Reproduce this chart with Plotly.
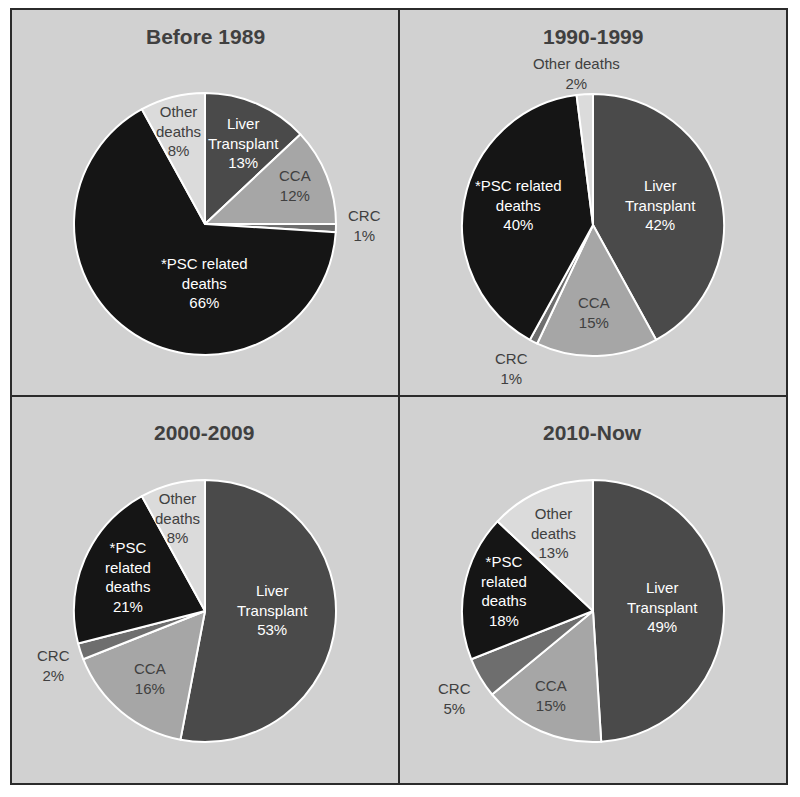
import plotly.graph_objects as go

# ── Data ─────────────────────────────────────────────────────────────────────

PERIODS = ["Before 1989", "1990-1999", "2000-2009", "2010-Now"]
CATEGORIES = ["Liver Transplant", "CCA", "CRC", "*PSC related deaths", "Other deaths"]

BEFORE_1989 = [13, 12, 1, 66, 8]
Y1990_1999 = [42, 15, 1, 40, 2]
Y2000_2009 = [53, 16, 2, 21, 8]
Y2010_NOW = [49, 15, 5, 18, 13]

# how each label wraps in the original, per panel
LABEL_LINES = [
    ["Liver<br>Transplant", "CCA", "CRC", "*PSC related<br>deaths", "Other<br>deaths"],
    ["Liver<br>Transplant", "CCA", "CRC", "*PSC related<br>deaths", "Other deaths"],
    ["Liver<br>Transplant", "CCA", "CRC", "*PSC<br>related<br>deaths", "Other<br>deaths"],
    ["Liver<br>Transplant", "CCA", "CRC", "*PSC<br>related<br>deaths", "Other<br>deaths"],
]

# ── Styling / layout ─────────────────────────────────────────────────────────

# the page body has an 8px margin, so the figure is a bit smaller than the window
PAGE_PAD = 8
W, H = 784, 780
BG = "#d1d1d1"
SLICE_COLORS = ["#4a4a4a", "#a6a6a6", "#6e6e6e", "#151515", "#dbdbdb"]
TEXT_DARK = "#404040"
LABEL_COLORS = ["white", TEXT_DARK, TEXT_DARK, "white", TEXT_DARK]
FONT = "Arial, Liberation Sans, sans-serif"

# pie centre (px), radius (px), title centre (px) -- window coordinates
PANELS = [
    dict(cx=205, cy=224, r=131, tx=205, ty=37),
    dict(cx=593, cy=225, r=131, tx=593, ty=37),
    dict(cx=205, cy=611, r=131, tx=204, ty=433),
    dict(cx=593, cy=611, r=131, tx=592, ty=433),
]
# label offsets from pie centre (px), same order as CATEGORIES
LABEL_OFFSETS = [
    [(38, -81), (90, -38), (159, 1), (-1, 59), (-27, -93)],
    [(67, -20), (1, 88), (-82, 143), (-75, -20), (-17, -152)],
    [(67, -1), (-55, 67), (-152, 54), (-77, -34), (-28, -93)],
    [(69, -4), (-42, 84), (-139, 87), (-89, -20), (-40, -78)],
]


def px_x(x):
    return (x - PAGE_PAD) / W


def px_y(y):
    return 1 - (y - PAGE_PAD) / H


fig = go.Figure()
annotations = []

for i, values in enumerate([BEFORE_1989, Y1990_1999, Y2000_2009, Y2010_NOW]):
    p = PANELS[i]
    fig.add_trace(go.Pie(
        labels=CATEGORIES,
        values=values,
        sort=False,
        direction="clockwise",
        rotation=0,
        marker=dict(colors=SLICE_COLORS, line=dict(color="white", width=2)),
        textinfo="none",
        hoverinfo="label+percent",
        showlegend=False,
        domain=dict(
            x=[px_x(p["cx"] - p["r"]), px_x(p["cx"] + p["r"])],
            y=[px_y(p["cy"] + p["r"]), px_y(p["cy"] - p["r"])],
        ),
    ))

    total = sum(values)
    for j, v in enumerate(values):
        dx, dy = LABEL_OFFSETS[i][j]
        annotations.append(dict(
            text=f"{LABEL_LINES[i][j]}<br>{round(v / total * 100)}%",
            x=px_x(p["cx"] + dx), y=px_y(p["cy"] + dy),
            xref="paper", yref="paper",
            xanchor="center", yanchor="middle",
            showarrow=False,
            font=dict(family=FONT, size=15, color=LABEL_COLORS[j]),
        ))

    annotations.append(dict(
        text=f"<b>{PERIODS[i]}</b>",
        x=px_x(p["tx"]), y=px_y(p["ty"]),
        xref="paper", yref="paper",
        xanchor="center", yanchor="middle",
        showarrow=False,
        font=dict(family=FONT, size=21, color=TEXT_DARK),
    ))

# panel frame and dividers
line = dict(color="#2b2b2b", width=2)
shapes = [
    dict(type="rect", xref="paper", yref="paper", layer="below",
         x0=px_x(11), x1=px_x(787), y0=px_y(784), y1=px_y(9),
         fillcolor=BG, line=line),
    dict(type="line", xref="paper", yref="paper",
         x0=px_x(399), x1=px_x(399), y0=px_y(784), y1=px_y(9), line=line),
    dict(type="line", xref="paper", yref="paper",
         x0=px_x(11), x1=px_x(787), y0=px_y(396), y1=px_y(396), line=line),
]

fig.update_layout(
    width=W, height=H,
    margin=dict(l=0, r=0, t=0, b=0),
    paper_bgcolor="white",
    plot_bgcolor="white",
    shapes=shapes,
    annotations=annotations,
    font=dict(family=FONT),
)

fig.write_html("out.html")
